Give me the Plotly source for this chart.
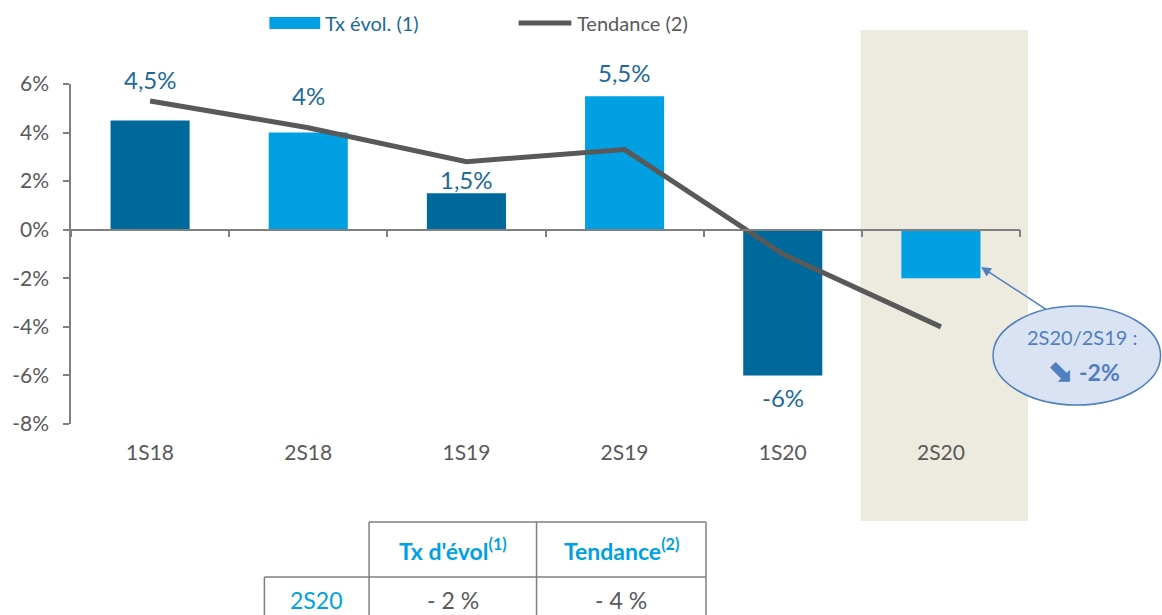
import plotly.graph_objects as go

# ---- data ----
categories = ["1S18", "2S18", "1S19", "2S19", "1S20", "2S20"]
tx_evol = [4.5, 4.0, 1.5, 5.5, -6.0, -2.0]
tendance = [5.3, 4.2, 2.8, 3.3, -1.0, -4.0]
show_label = [True, True, True, True, True, False]
y_ticks = [-8, -6, -4, -2, 0, 2, 4, 6]
y_ticktext = [f"{v}%" for v in y_ticks]

table_header = ["Tx d'évol<sup>(1)</sup>", "Tendance<sup>(2)</sup>"]
table_row_label = "2S20"
table_row_values = ["- 2 %", "- 4 %"]

# ---- style ----
DARK = "#00699B"
LIGHT = "#00A0E3"
bar_colors = [DARK, LIGHT, DARK, LIGHT, DARK, LIGHT]
LINE = "#595959"
LABEL = "#1D6A98"
GRAY = "#595959"
AXIS = "#808080"
SHADE = "#EDEADF"
CALLOUT = "#4F7FBF"
FONT = "Lato"
label_center_offset = [41, 37, 14, 24, -22, 0]

W, H = 1162, 615
L, R, T, B = 68, 142, 84, 191
PW, PH = W - L - R, H - T - B


def px(xp):
    return (xp - L) / PW


def py(yp):
    return (H - B - yp) / PH


def note(x, y, text, size, color, family=FONT, xanchor="center"):
    return dict(xref="paper", yref="paper", x=px(x), y=py(y), text=text, showarrow=False,
                xanchor=xanchor, yanchor="middle", font=dict(family=family, size=size, color=color))


fig = go.Figure()
fig.add_trace(go.Bar(x=categories, y=tx_evol, marker=dict(color=bar_colors, line=dict(width=0)),
                     width=0.5, showlegend=False, hoverinfo="skip"))
fig.add_trace(go.Scatter(x=categories, y=tendance, mode="lines",
                         line=dict(color=LINE, width=5), showlegend=False))
# invisible trace for the zero-line axis
fig.add_trace(go.Scatter(x=categories, y=[None] * len(categories), xaxis="x2",
                         mode="lines", showlegend=False, hoverinfo="skip"))

annotations = []
for c, v, s, sh in zip(categories, tx_evol, show_label, label_center_offset):
    if not s:
        continue
    txt = f"{v:g}".replace(".", ",") + "%"
    annotations.append(dict(x=c, y=v, xref="x", yref="y", text=txt, showarrow=False,
                            xanchor="center", yanchor="middle",
                            yshift=sh, font=dict(family=FONT, size=24, color=LABEL)))

shapes = []
# shaded highlight for 2S20
shapes.append(dict(type="rect", xref="paper", yref="paper", x0=px(860), x1=px(1028),
                   y0=py(521), y1=py(30), fillcolor=SHADE, line=dict(width=0), layer="below"))

# legend (manual)
shapes.append(dict(type="rect", xref="paper", yref="paper", x0=px(267), x1=px(318),
                   y0=py(29), y1=py(17), fillcolor=LIGHT, line=dict(width=0)))
shapes.append(dict(type="line", xref="paper", yref="paper", x0=px(517), x1=px(570),
                   y0=py(23), y1=py(23), line=dict(color=LINE, width=5)))
annotations.append(note(321, 23, "Tx évol. (1)", 20, LABEL, xanchor="left"))
annotations.append(note(574, 23, "Tendance (2)", 20, GRAY, xanchor="left"))

# callout ellipse
shapes.append(dict(type="circle", xref="paper", yref="paper", x0=px(993), x1=px(1161),
                   y0=py(405), y1=py(306), fillcolor="#DAE3F3", line=dict(color=CALLOUT, width=1.5)))
annotations.append(dict(xref="paper", yref="paper", x=px(981), y=py(267), ax=66, ay=43,
                        showarrow=True, arrowhead=2, arrowsize=1.3, arrowwidth=1.5,
                        arrowcolor=CALLOUT, text=""))
annotations.append(note(1082, 337, "2S20/2S19 :", 20, CALLOUT))
annotations.append(note(1060, 370, "<b>⬊</b>", 32, CALLOUT, family="DejaVu Sans"))
annotations.append(note(1100, 372, "<b>-2%</b>", 23, CALLOUT))

# table
TC = "#7F7F7F"
tl = dict(color=TC, width=1.5)
for (x0, y0, x1, y1) in [(367, 522, 705, 522), (262, 577, 705, 577),
                         (367, 522, 367, 620), (535, 522, 535, 620),
                         (705, 522, 705, 620), (262, 577, 262, 620)]:
    shapes.append(dict(type="line", xref="paper", yref="paper", x0=px(x0), x1=px(x1),
                       y0=py(y0), y1=py(y1), line=tl))
for xc, t in zip([451, 620], table_header):
    annotations.append(note(xc, 549, f"<b>{t}</b>", 23, LIGHT))
annotations.append(note(314, 600, table_row_label, 23, LIGHT))
for xc, t in zip([451, 620], table_row_values):
    annotations.append(note(xc, 600, t, 23, GRAY))

fig.update_layout(
    width=W, height=H, margin=dict(l=L, r=R, t=T, b=B, pad=0),
    paper_bgcolor="white", plot_bgcolor="rgba(0,0,0,0)",
    font=dict(family=FONT, color=GRAY),
    showlegend=False, bargap=0.5,
    xaxis=dict(type="category", categoryorder="array", categoryarray=categories,
               range=[-0.5, 5.5], showline=False, showgrid=False, zeroline=False,
               ticks="", tickfont=dict(family=FONT, size=21, color=GRAY),
               ticklabelstandoff=14),
    xaxis2=dict(type="category", categoryorder="array", categoryarray=categories,
                range=[-0.5, 5.5], overlaying="x", anchor="free", position=8 / 14,
                showline=True, linecolor=AXIS, linewidth=1.5, showgrid=False, zeroline=False,
                ticks="outside", tickson="boundaries", ticklen=7, tickcolor=AXIS, tickwidth=1.5,
                showticklabels=False),
    yaxis=dict(range=[-8, 6], tickvals=y_ticks, ticktext=y_ticktext, showgrid=False,
               zeroline=False, showline=True, linecolor=AXIS, linewidth=1.5,
               ticks="outside", ticklen=6, tickcolor=AXIS, tickwidth=1.5,
               tickfont=dict(family=FONT, size=21, color=GRAY), ticklabelstandoff=10),
    annotations=annotations, shapes=shapes,
)

fig.write_html("out.html", config={"displayModeBar": False},
               post_script="document.body.style.margin='0';document.body.style.overflow='hidden';")
